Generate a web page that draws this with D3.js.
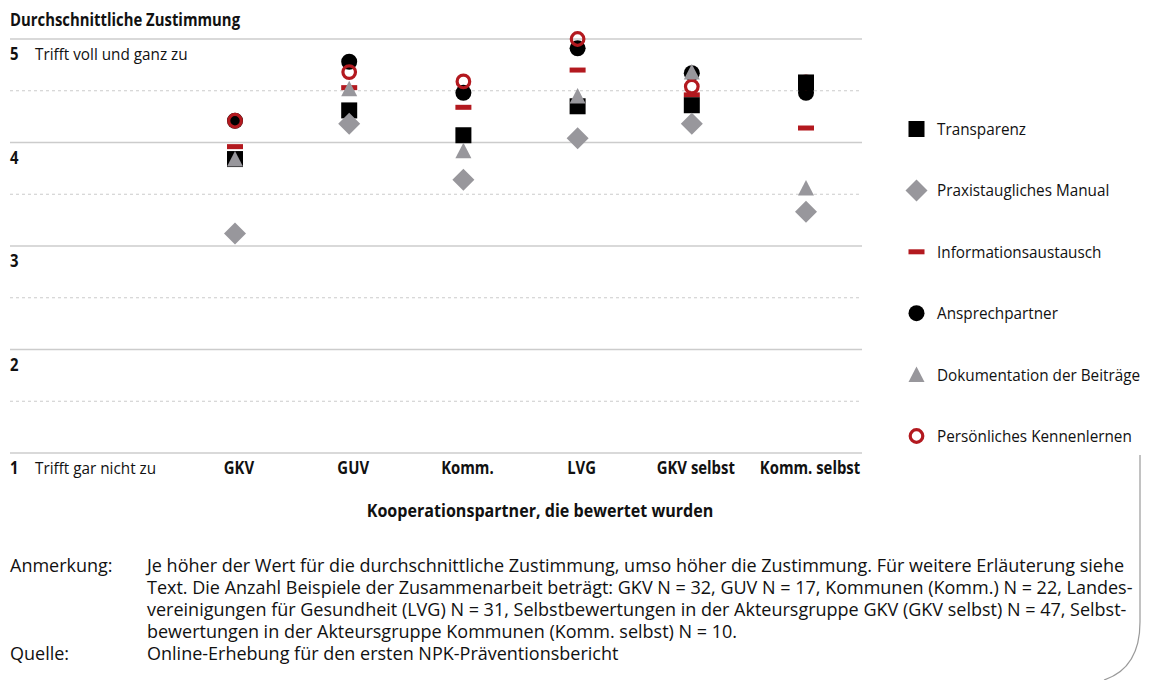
<!DOCTYPE html>
<html><head><meta charset="utf-8">
<script src="https://cdn.jsdelivr.net/npm/d3@7/dist/d3.min.js"></script>
<style>
html,body{margin:0;padding:0;background:#fff;}
svg text{font-family:"Open Sans",sans-serif;fill:#111;}
</style></head>
<body><svg id="c" width="1149" height="680"></svg>
<script>
// ---- data ----
const categories = ["GKV", "GUV", "Komm.", "LVG", "GKV selbst", "Komm. selbst"];
const transparenz   = [3.84, 4.31, 4.07, 4.35, 4.36, 4.58];
const manual        = [3.12, 4.18, 3.64, 4.04, 4.18, 3.33];
const infoAustausch = [3.96, 4.53, 4.34, 4.70, 4.46, 4.14];
const ansprech      = [4.21, 4.78, 4.48, 4.91, 4.67, 4.48];
const doku          = [3.84, 4.52, 3.92, 4.45, 4.68, 3.56];
const kennen        = [4.21, 4.68, 4.59, 5.00, 4.54, 4.58];
const seriesNames = ["Transparenz", "Praxistaugliches Manual", "Informationsaustausch",
  "Ansprechpartner", "Dokumentation der Beiträge", "Persönliches Kennenlernen"];
const yTicks = [1, 2, 3, 4, 5];
const yTickText = {5: "Trifft voll und ganz zu", 1: "Trifft gar nicht zu"};
const xTitle = "Kooperationspartner, die bewertet wurden";
const yTitle = "Durchschnittliche Zustimmung";
const noteLines = [
  "Je höher der Wert für die durchschnittliche Zustimmung, umso höher die Zustimmung. Für weitere Erläuterung siehe",
  "Text. Die Anzahl Beispiele der Zusammenarbeit beträgt: GKV N = 32, GUV N = 17, Kommunen (Komm.) N = 22, Landes-",
  "vereinigungen für Gesundheit (LVG) N = 31, Selbstbewertungen in der Akteursgruppe GKV (GKV selbst) N = 47, Selbst-",
  "bewertungen in der Akteursgruppe Kommunen (Komm. selbst) N = 10."
];
const sourceText = "Online-Erhebung für den ersten NPK-Präventionsbericht";

// ---- styles ----
const RED = "#b3191f", GRAY = "#98979c", BLACK = "#000", GRID = "#cccccc";

const svg = d3.select("#c");
const y = d3.scaleLinear().domain([1, 5]).range([453, 39]);
const x = d3.scalePoint().domain(categories).range([235, 806]);

function txt(g, tx, ty, s, o = {}) {
  return g.append("text")
    .attr("transform", `translate(${tx},${ty}) scale(${o.sx || 0.9},1)`)
    .attr("text-anchor", o.anchor || "start")
    .style("font-size", (o.size || 17) + "px")
    .style("font-weight", o.bold ? 700 : 400)
    .text(s);
}
const REG = {size: 17, sx: 0.9};
const BOLD = {size: 17.5, sx: 0.85, bold: true};
const NOTE = {size: 18, sx: 1.0};

// grid
const grid = svg.append("g");
const gridVals = d3.range(1, 5.01, 0.5);
grid.selectAll("line").data(gridVals).join("line")
  .attr("x1", 10).attr("x2", 862)
  .attr("y1", d => y(d)).attr("y2", d => y(d))
  .attr("stroke", GRID)
  .attr("stroke-width", d => d % 1 === 0 ? 1.5 : 1.2)
  .attr("stroke-dasharray", d => d % 1 === 0 ? null : "3,3");

// y tick labels
const yl = svg.append("g");
yTicks.forEach(t => {
  txt(yl, 10, y(t) + 21, String(t), BOLD);
  if (yTickText[t]) txt(yl, 35, y(t) + 21, yTickText[t], REG);
});
txt(svg, 10, 26, yTitle, BOLD);

// x labels
categories.forEach(c => txt(svg, x(c) + 4, y(1) + 21, c, {...BOLD, anchor: "middle"}));
txt(svg, 540, 517, xTitle, {...BOLD, sx: 0.92, anchor: "middle"});

// marker drawers
const drawers = {
  square: (g) => g.append("rect").attr("x", -8).attr("y", -8).attr("width", 16).attr("height", 16).attr("fill", BLACK),
  diamond: (g) => g.append("path").attr("d", "M0,-11L11,0L0,11L-11,0Z").attr("fill", GRAY),
  dash: (g) => g.append("rect").attr("x", -8).attr("y", -2.5).attr("width", 16).attr("height", 5).attr("fill", RED),
  dot: (g) => g.append("circle").attr("r", 8).attr("fill", BLACK),
  triangle: (g) => g.append("path").attr("d", "M0,-8L8,7.5L-8,7.5Z").attr("fill", GRAY),
  ring: (g) => g.append("circle").attr("r", 6.3).attr("fill", "none").attr("stroke", RED).attr("stroke-width", 3.2)
};
const series = [
  {name: seriesNames[0], vals: transparenz, shape: "square"},
  {name: seriesNames[1], vals: manual, shape: "diamond"},
  {name: seriesNames[2], vals: infoAustausch, shape: "dash"},
  {name: seriesNames[3], vals: ansprech, shape: "dot"},
  {name: seriesNames[4], vals: doku, shape: "triangle"},
  {name: seriesNames[5], vals: kennen, shape: "ring"}
];
// drawing order (bottom to top)
const order = ["dot", "ring", "dash", "square", "triangle", "diamond"];
const marks = svg.append("g");
order.forEach(sh => {
  const s = series.find(d => d.shape === sh);
  s.vals.forEach((v, i) => {
    const g = marks.append("g").attr("transform", `translate(${x(categories[i])},${y(v)})`);
    drawers[sh](g);
  });
});

// legend
const legY = d3.scalePoint().domain(seriesNames).range([129, 436]);
const leg = svg.append("g");
series.forEach(s => {
  const g = leg.append("g").attr("transform", `translate(916.5,${legY(s.name)})`);
  drawers[s.shape](g);
  txt(leg, 937, legY(s.name) + 6, s.name, REG);
});

// notes
const notes = svg.append("g");
txt(notes, 10, 572, "Anmerkung:", NOTE);
noteLines.forEach((l, i) => txt(notes, 147, 572 + i * 22, l, NOTE));
txt(notes, 10, 660, "Quelle:", NOTE);
txt(notes, 147, 660, sourceText, NOTE);

// page decoration
svg.append("path").attr("d", "M1140,455L1140,622Q1140,668 1104,680")
  .attr("fill", "none").attr("stroke", "#9a9a9a").attr("stroke-width", 1.2);
</script></body></html>
